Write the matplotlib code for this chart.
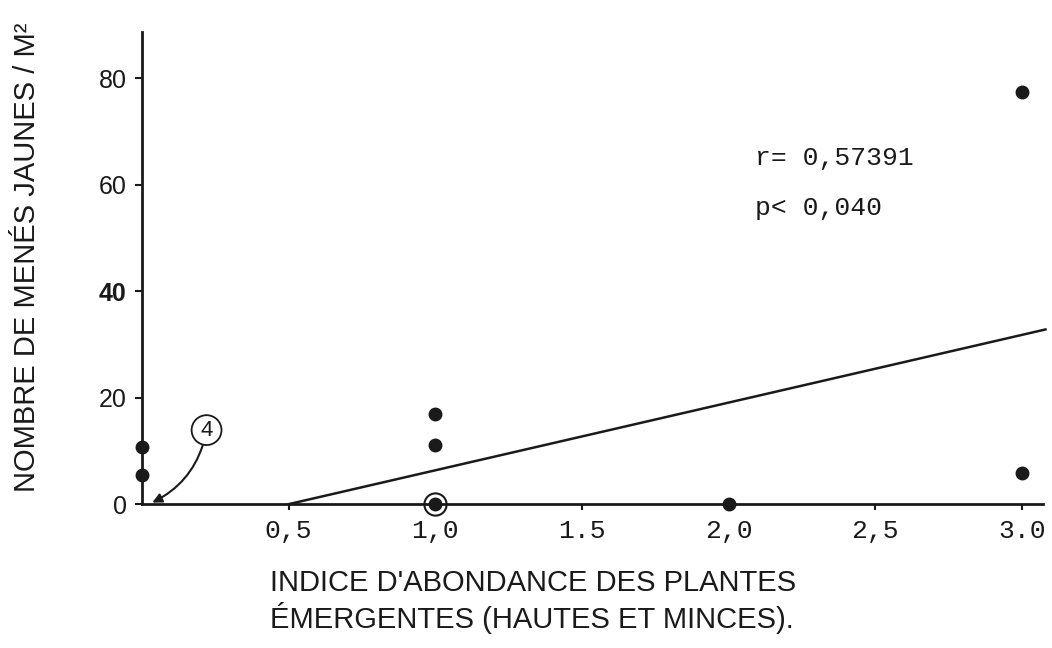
import matplotlib
matplotlib.use("Agg")
import matplotlib.pyplot as plt

# Data
x_points = [0.0, 0.0, 1.0, 1.0, 1.0, 2.0, 3.0, 3.0]
y_points = [10.7, 5.5, 17.0, 11.1, 0.0, 0.0, 77.3, 5.8]
circled_x = [1.0]
circled_y = [0.0]
fit_x = [0.5, 3.08]
fit_y = [0.0, 32.8]
x_ticks = [0.5, 1.0, 1.5, 2.0, 2.5, 3.0]
x_tick_labels = ["0,5", "1,0", "1.5", "2,0", "2,5", "3.0"]
y_ticks = [0, 20, 40, 60, 80]
y_tick_labels = ["0", "20", "40", "60", "80"]
stats_lines = ["r= 0,57391", "p< 0,040"]
n_origin = "4"

mono = ["Liberation Mono", "DejaVu Sans Mono"]
sans = ["Liberation Sans", "DejaVu Sans"]

fig = plt.figure(figsize=(10.52, 6.48), dpi=100)
ax = fig.add_axes([0.135, 0.222, 0.856, 0.729])
ax.set_xlim(0, 3.07)
ax.set_ylim(0, 88.7)

ink = "#1a1a1a"
ax.plot(fit_x, fit_y, color=ink, lw=1.8, clip_on=False)
ax.plot(x_points, y_points, 'o', color=ink, ms=9, clip_on=False, zorder=5)
ax.plot(circled_x, circled_y, 'o', mfc='none', mec=ink, ms=16, mew=1.5, clip_on=False, zorder=5)

for s in ["top", "right"]:
    ax.spines[s].set_visible(False)
for s in ["left", "bottom"]:
    ax.spines[s].set_linewidth(2.0)
    ax.spines[s].set_color(ink)

ax.set_xticks(x_ticks)
ax.set_xticklabels(x_tick_labels, fontfamily=mono, fontsize=19, color=ink)
ax.set_yticks(y_ticks)
ax.set_yticklabels(y_tick_labels, fontfamily=sans, fontsize=18, color="#333333")
ax.tick_params(axis='x', direction='out', length=4, width=1.5, pad=7, colors=ink)
ax.tick_params(axis='y', direction='out', length=5, width=1.5, pad=6, colors=ink)
for lab in ax.get_yticklabels():
    if lab.get_text() == "40":
        lab.set_fontweight("bold")

ax.text(2.09, 65, stats_lines[0], fontfamily=mono, fontsize=19, color=ink, va='center')
ax.text(2.09, 55.7, stats_lines[1], fontfamily=mono, fontsize=19, color=ink, va='center')

ax.annotate(n_origin, xy=(0.035, 0.3), xytext=(0.22, 13.9),
            fontfamily=sans, fontsize=16, color=ink, ha='center', va='center',
            bbox=dict(boxstyle='circle,pad=0.2', fc='white', ec=ink, lw=1.3),
            arrowprops=dict(arrowstyle='-|>', color=ink, lw=1.5,
                            connectionstyle='arc3,rad=-0.25', shrinkA=0, shrinkB=0,
                            mutation_scale=14))

fig.text(0.257, 0.101, "INDICE D'ABONDANCE DES PLANTES", fontfamily=sans,
         fontsize=21, color=ink, va='center', ha='left')
fig.text(0.257, 0.046, "ÉMERGENTES (HAUTES ET MINCES).", fontfamily=sans,
         fontsize=21, color=ink, va='center', ha='left')
fig.text(0.026, 0.603, "NOMBRE DE MENÉS JAUNES / M²", fontfamily=sans,
         fontsize=21, color=ink, va='center', ha='center', rotation=90)

fig.savefig("out.png", dpi=100, facecolor="white")
